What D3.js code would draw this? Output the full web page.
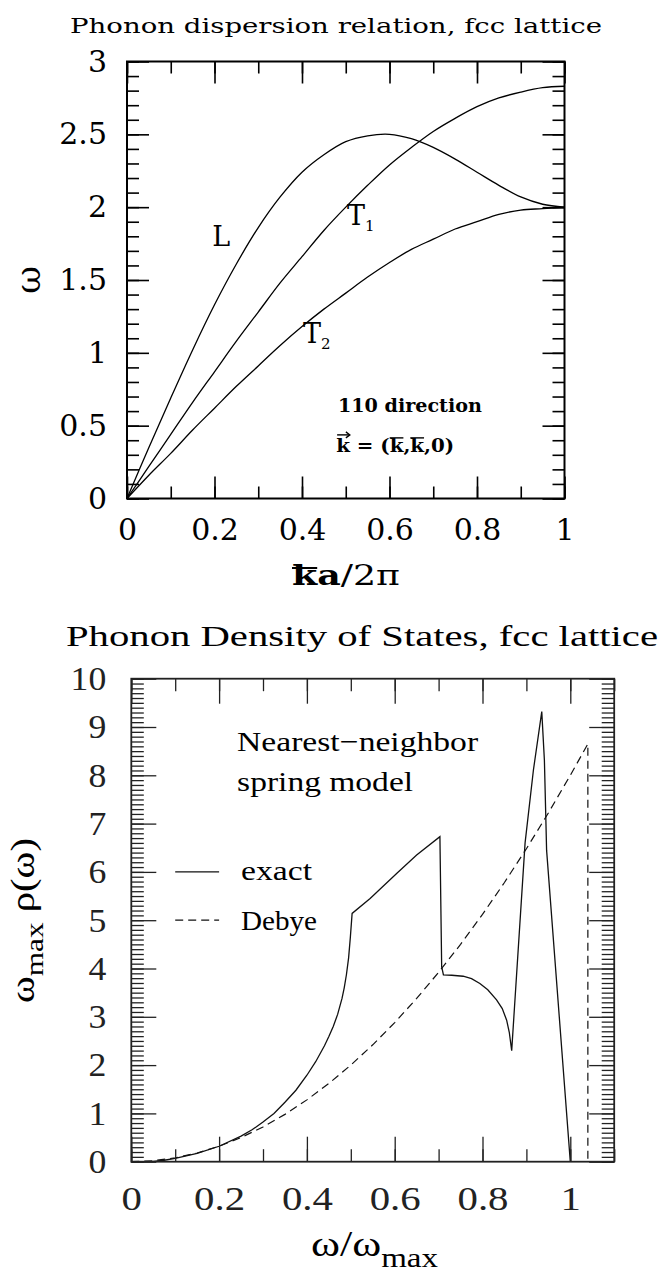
<!DOCTYPE html>
<html>
<head>
<meta charset="utf-8">
<script src="https://cdn.jsdelivr.net/npm/d3@7"></script>
<style>
  body { margin: 0; background: #fff; }
  svg { display: block; }
</style>
</head>
<body>
<svg id="chart" width="662" height="1273"></svg>
<script>
// Top panel: phonon branches along (k,k,0), every 0.05
let kValues = [0, 0.05, 0.1, 0.15, 0.2, 0.25, 0.3, 0.35, 0.4, 0.45, 0.5,
               0.55, 0.6, 0.65, 0.7, 0.75, 0.8, 0.85, 0.9, 0.95, 1];
let omegaL  = [0, 0.35, 0.69, 1.02, 1.33, 1.61, 1.86, 2.07, 2.24, 2.36, 2.45,
               2.49, 2.50, 2.47, 2.41, 2.33, 2.24, 2.15, 2.07, 2.02, 2.00];
let omegaT1 = [0, 0.22, 0.44, 0.66, 0.87, 1.08, 1.28, 1.48, 1.66, 1.84, 2.00,
               2.15, 2.29, 2.41, 2.52, 2.61, 2.69, 2.75, 2.79, 2.82, 2.83];
let omegaT2 = [0, 0.16, 0.31, 0.47, 0.62, 0.77, 0.91, 1.05, 1.18, 1.30, 1.41,
               1.52, 1.62, 1.71, 1.78, 1.85, 1.90, 1.95, 1.98, 1.99, 2.00];

let topXTicks = [0, 0.2, 0.4, 0.6, 0.8, 1];
let topXLabels = ["0", "0.2", "0.4", "0.6", "0.8", "1"];
let topYTicks = [0, 0.5, 1, 1.5, 2, 2.5, 3];
let topYLabels = ["0", "0.5", "1", "1.5", "2", "2.5", "3"];

// Bottom panel: density of states
let dosX = [0.046, 0.075, 0.1, 0.15, 0.2, 0.25, 0.275, 0.3, 0.325, 0.35, 0.375, 0.4,
            0.42, 0.44, 0.45, 0.46, 0.47, 0.48, 0.485, 0.49, 0.495, 0.499, 0.503,
            0.544, 0.605, 0.65, 0.703, 0.707, 0.711, 0.73,
            0.756, 0.775, 0.794, 0.812, 0.832, 0.845, 0.855, 0.861, 0.8665,
            0.897, 0.916, 0.935, 0.941, 0.944, 0.946, 1.0];
let dosExact = [0, 0.03, 0.07, 0.17, 0.32, 0.53, 0.66, 0.82, 1.0, 1.23, 1.48, 1.79,
                2.07, 2.4, 2.59, 2.8, 3.05, 3.38, 3.6, 3.87, 4.22, 4.65, 5.14,
                5.45, 5.97, 6.35, 6.73, 4.04, 3.87, 3.86,
                3.84, 3.79, 3.69, 3.56, 3.35, 3.17, 2.93, 2.68, 2.3,
                6.6, 8.11, 9.32, 8.31, 7.21, 6.45, 0];
let debyeX = [0, 0.05, 0.1, 0.15, 0.2, 0.25, 0.3, 0.35, 0.4, 0.45, 0.5, 0.55, 0.6,
              0.65, 0.7, 0.75, 0.8, 0.85, 0.9, 0.95, 1.0, 1.04, 1.04];
let debyeRho = [0, 0.02, 0.08, 0.18, 0.32, 0.5, 0.72, 0.98, 1.28, 1.62, 2.0, 2.42, 2.88,
                3.38, 3.92, 4.5, 5.12, 5.78, 6.48, 7.22, 8.0, 8.65, 0];

let botXTicks = [0, 0.2, 0.4, 0.6, 0.8, 1];
let botXLabels = ["0", "0.2", "0.4", "0.6", "0.8", "1"];
let botYTicks = [0, 1, 2, 3, 4, 5, 6, 7, 8, 9, 10];
let botYLabels = ["0", "1", "2", "3", "4", "5", "6", "7", "8", "9", "10"];

const svg = d3.select("#chart");

// minor tick helper (steps between lo and hi)
function steps(lo, hi, step) {
    let n = Math.round((hi - lo) / step);
    return d3.range(n + 1).map(i => +(lo + i * step).toFixed(4));
}

// Frame with inward ticks on all four sides
function drawFrame(g, x, y, s) {
    let [xa, xb] = x.range();
    let [ya, yb] = y.range();

    function styleAxis(sel, sw) {
        sel.select(".domain").remove();
        sel.selectAll("line").attr("stroke-width", sw);
        sel.attr("color", s.color);
    }

    let sides = [
        [d3.axisBottom, `translate(0,${ya})`, x],
        [d3.axisTop, `translate(0,${yb})`, x],
        [d3.axisLeft, `translate(${xa},0)`, y],
        [d3.axisRight, `translate(${xb},0)`, y]
    ];
    sides.forEach(([ax, tr, sc]) => {
        let minor = sc === x ? s.xMinor : s.yMinor;
        let major = sc === x ? s.xMajor : s.yMajor;
        g.append("g").attr("transform", tr)
            .call(ax(sc).tickValues(minor).tickSize(-s.minorLen).tickFormat(""))
            .call(a => styleAxis(a, s.tickWidth));
        g.append("g").attr("transform", tr)
            .call(ax(sc).tickValues(major).tickSize(-s.majorLen).tickFormat(""))
            .call(a => styleAxis(a, s.tickWidth));
    });

    // labelled axes (ticks already drawn)
    let bx = g.append("g").attr("transform", `translate(0,${ya})`)
        .call(d3.axisBottom(x).tickValues(s.xMajor).tickSize(0).tickPadding(s.xPad)
            .tickFormat((d, i) => s.xLabels[i]));
    bx.select(".domain").remove();
    bx.attr("font-family", s.font).attr("font-size", s.fontSize).attr("color", s.color);

    let ly = g.append("g").attr("transform", `translate(${xa},0)`)
        .call(d3.axisLeft(y).tickValues(s.yMajor).tickSize(0).tickPadding(s.yPad)
            .tickFormat((d, i) => s.yLabels[i]));
    ly.select(".domain").remove();
    ly.attr("font-family", s.font).attr("font-size", s.fontSize).attr("color", s.color);

    if (s.stretch) {
        bx.selectAll("text").each(function() {
            let w = this.getComputedTextLength();
            d3.select(this).attr("textLength", w * s.stretch).attr("lengthAdjust", "spacingAndGlyphs");
        });
        ly.selectAll("text").each(function() {
            let w = this.getComputedTextLength();
            d3.select(this).attr("textLength", w * s.stretchY).attr("lengthAdjust", "spacingAndGlyphs");
        });
    }

    g.append("rect")
        .attr("x", xa).attr("y", yb)
        .attr("width", xb - xa).attr("height", ya - yb)
        .attr("fill", "none")
        .attr("stroke", s.color)
        .attr("stroke-width", s.frameWidth);
}

/* ---------------- Top panel: dispersion ---------------- */

let xTop = d3.scaleLinear().domain([0, 1]).range([127, 564.5]);
let yTop = d3.scaleLinear().domain([0, 3]).range([498.5, 61.5]);

let gTop = svg.append("g");

svg.append("text")
    .attr("x", 70).attr("y", 33)
    .attr("font-family", "DejaVu Serif").attr("font-size", 21)
    .attr("textLength", 532).attr("lengthAdjust", "spacingAndGlyphs")
    .text("Phonon dispersion relation, fcc lattice");

let branchLine = d3.line()
    .x(d => xTop(d[0]))
    .y(d => yTop(d[1]))
    .curve(d3.curveCatmullRom);

[omegaL, omegaT1, omegaT2].forEach(series => {
    gTop.append("path")
        .datum(d3.zip(kValues, series))
        .attr("d", branchLine)
        .attr("fill", "none")
        .attr("stroke", "#000")
        .attr("stroke-width", 1.3);
});

drawFrame(gTop, xTop, yTop, {
    xMajor: topXTicks, xLabels: topXLabels, xMinor: steps(0, 1, 0.1),
    yMajor: topYTicks, yLabels: topYLabels, yMinor: steps(0, 3, 0.1),
    majorLen: 22, minorLen: 12, tickWidth: 1.6, frameWidth: 2,
    xPad: 20, yPad: 20, font: "DejaVu Serif", fontSize: 30, color: "#000"
});

// branch labels
gTop.append("text")
    .attr("x", xTop(0.195)).attr("y", yTop(1.73))
    .attr("font-family", "DejaVu Serif").attr("font-size", 27)
    .text("L");

let t1 = gTop.append("text")
    .attr("x", xTop(0.503)).attr("y", yTop(1.88))
    .attr("font-family", "DejaVu Serif").attr("font-size", 27);
t1.append("tspan").text("T");
t1.append("tspan").attr("font-size", 15).attr("dy", 6).text("1");

let t2 = gTop.append("text")
    .attr("x", xTop(0.402)).attr("y", yTop(1.07))
    .attr("font-family", "DejaVu Serif").attr("font-size", 27);
t2.append("tspan").text("T");
t2.append("tspan").attr("font-size", 15).attr("dy", 6).text("2");

gTop.append("text")
    .attr("x", xTop(0.482)).attr("y", yTop(0.595))
    .attr("font-family", "DejaVu Serif").attr("font-weight", "bold").attr("font-size", 19)
    .attr("textLength", 144).attr("lengthAdjust", "spacingAndGlyphs")
    .text("110 direction");

let kvec = gTop.append("text")
    .attr("x", xTop(0.478)).attr("y", yTop(0.32))
    .attr("font-family", "DejaVu Serif").attr("font-weight", "bold").attr("font-size", 19)
    .attr("textLength", 118).attr("lengthAdjust", "spacingAndGlyphs")
    .text("k = (k,k,0)");

// arrow over the first k, bars over the components
{
    let n = kvec.node();
    let e0 = n.getExtentOfChar(0);
    let ay = e0.y + 1;
    gTop.append("line")
        .attr("x1", e0.x + 1).attr("x2", e0.x + e0.width - 1)
        .attr("y1", ay).attr("y2", ay)
        .attr("stroke", "#000").attr("stroke-width", 1.4);
    gTop.append("path")
        .attr("d", `M${e0.x + e0.width - 4},${ay - 3} L${e0.x + e0.width},${ay} L${e0.x + e0.width - 4},${ay + 3}`)
        .attr("fill", "none").attr("stroke", "#000").attr("stroke-width", 1.3);
    [5, 7].forEach(i => {
        let e = n.getExtentOfChar(i);
        gTop.append("line")
            .attr("x1", e.x).attr("x2", e.x + e.width)
            .attr("y1", e.y + 4).attr("y2", e.y + 4)
            .attr("stroke", "#000").attr("stroke-width", 1.4);
    });
}

// axis titles
svg.append("text")
    .attr("transform", "translate(40,280) rotate(-90)")
    .attr("text-anchor", "middle")
    .attr("font-family", "DejaVu Serif").attr("font-size", 34)
    .text("ω");

let kaTitle = svg.append("text")
    .attr("x", 292).attr("y", 585)
    .attr("font-family", "DejaVu Serif").attr("font-size", 27)
    .attr("textLength", 108).attr("lengthAdjust", "spacingAndGlyphs");
kaTitle.append("tspan").attr("font-weight", "bold").text("ka");
kaTitle.append("tspan").text("/2π");
{
    let e = kaTitle.node().getExtentOfChar(0);
    svg.append("line")
        .attr("x1", e.x).attr("x2", e.x + e.width)
        .attr("y1", 568).attr("y2", 568)
        .attr("stroke", "#000").attr("stroke-width", 2);
}

/* ---------------- Bottom panel: density of states ---------------- */

let xBot = d3.scaleLinear().domain([0, 1.1]).range([131.3, 614.2]);
let yBot = d3.scaleLinear().domain([0, 10]).range([1161.7, 678.7]);

let gBot = svg.append("g");

svg.append("text")
    .attr("x", 66).attr("y", 646)
    .attr("font-family", "Liberation Serif").attr("font-size", 30)
    .attr("textLength", 592).attr("lengthAdjust", "spacingAndGlyphs")
    .text("Phonon Density of States, fcc lattice");

let dosLine = d3.line()
    .x(d => xBot(d[0]))
    .y(d => yBot(d[1]));

gBot.append("path")
    .datum(d3.zip(debyeX, debyeRho))
    .attr("d", dosLine)
    .attr("fill", "none")
    .attr("stroke", "#111")
    .attr("stroke-width", 1.2)
    .attr("stroke-dasharray", "8,5");

gBot.append("path")
    .datum(d3.zip(dosX, dosExact))
    .attr("d", dosLine)
    .attr("fill", "none")
    .attr("stroke", "#111")
    .attr("stroke-width", 1.3);

drawFrame(gBot, xBot, yBot, {
    xMajor: botXTicks, xLabels: botXLabels, xMinor: steps(0, 1.1, 0.1),
    yMajor: botYTicks, yLabels: botYLabels, yMinor: steps(0, 10, 0.1),
    majorLen: 25, minorLen: 12.5, tickWidth: 1.3, frameWidth: 1.8,
    xPad: 24, yPad: 25, font: "Liberation Serif", fontSize: 34, color: "#222",
    stretch: 1.2, stretchY: 1.05
});

// model note
gBot.append("text")
    .attr("x", xBot(0.241)).attr("y", yBot(8.5))
    .attr("font-family", "Liberation Serif").attr("font-size", 28)
    .attr("textLength", 241).attr("lengthAdjust", "spacingAndGlyphs")
    .text("Nearest\u2212neighbor");
gBot.append("text")
    .attr("x", xBot(0.241)).attr("y", yBot(7.67))
    .attr("font-family", "Liberation Serif").attr("font-size", 28)
    .attr("textLength", 176).attr("lengthAdjust", "spacingAndGlyphs")
    .text("spring model");

// legend
let legend = [
    { label: "exact", level: 6, textLevel: 5.83, dash: null, len: 71 },
    { label: "Debye", level: 5, textLevel: 4.8, dash: "8,5", len: 76 }
];
legend.forEach(d => {
    gBot.append("line")
        .attr("x1", xBot(0.1)).attr("x2", xBot(0.2))
        .attr("y1", yBot(d.level)).attr("y2", yBot(d.level))
        .attr("stroke", "#111").attr("stroke-width", 1.3)
        .attr("stroke-dasharray", d.dash);
    gBot.append("text")
        .attr("x", xBot(0.25)).attr("y", yBot(d.textLevel))
        .attr("font-family", "Liberation Serif").attr("font-size", 28)
        .attr("textLength", d.len).attr("lengthAdjust", "spacingAndGlyphs")
        .text(d.label);
});

// axis titles
let wTitle = svg.append("text")
    .attr("x", 311).attr("y", 1256)
    .attr("font-family", "Liberation Serif").attr("font-size", 36)
    .attr("textLength", 127).attr("lengthAdjust", "spacingAndGlyphs");
wTitle.append("tspan").text("ω/ω");
wTitle.append("tspan").attr("font-size", 27).attr("dy", 11).text("max");

let rhoTitle = svg.append("text")
    .attr("transform", "translate(34,1003) rotate(-90)")
    .attr("font-family", "Liberation Serif").attr("font-size", 34)
    .attr("textLength", 165).attr("lengthAdjust", "spacingAndGlyphs");
rhoTitle.append("tspan").text("ω");
rhoTitle.append("tspan").attr("font-size", 26).attr("dy", 9).text("max");
rhoTitle.append("tspan").attr("dy", -9).text(" ρ(ω)");
</script>
</body>
</html>
